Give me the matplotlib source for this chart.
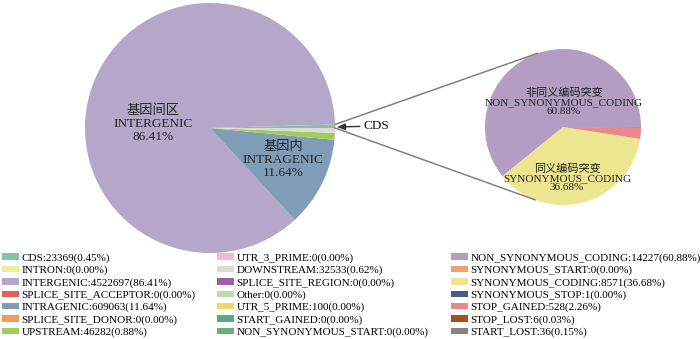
import numpy as np
import matplotlib
matplotlib.use("Agg")
import matplotlib.pyplot as plt

plt.rcParams["font.family"] = ["Liberation Serif", "Noto Sans CJK SC"]

# Variant annotation counts (whole genome)
main_names = ["CDS", "INTRON", "INTERGENIC", "SPLICE_SITE_ACCEPTOR", "INTRAGENIC",
              "SPLICE_SITE_DONOR", "UPSTREAM", "UTR_3_PRIME", "DOWNSTREAM",
              "SPLICE_SITE_REGION", "Other", "UTR_5_PRIME", "START_GAINED",
              "NON_SYNONYMOUS_START"]
main_counts = [23369, 0, 4522697, 0, 609063, 0, 46282, 0, 32533, 0, 0, 100, 0, 0]
main_colors = ["#7ec6a6", "#eeeca0", "#b4a7c9", "#e0605c", "#7f9db7", "#f09a5c",
               "#a4cc5c", "#f4bad2", "#dedad6", "#a060a2", "#bcdcb0", "#f0d862",
               "#58a888", "#6ab072"]

# Breakdown of the CDS variants
cds_names = ["NON_SYNONYMOUS_CODING", "SYNONYMOUS_START", "SYNONYMOUS_CODING",
             "SYNONYMOUS_STOP", "STOP_GAINED", "STOP_LOST", "START_LOST"]
cds_counts = [14227, 0, 8571, 1, 528, 6, 36]
cds_colors = ["#b39dc3", "#f0a070", "#ece690", "#4a5890", "#e98888", "#a84c22",
              "#8a8080"]


def pct(counts):
    counts = np.asarray(counts, dtype=float)
    return counts / counts.sum() * 100


main_pct = pct(main_counts)
cds_pct = pct(cds_counts)

fig = plt.figure(figsize=(7, 3.39), dpi=100)
ax = fig.add_axes([0, 0, 1, 1])

H = 339
c1, r1 = (210, H - 128), 125
c2, r2 = (563, H - 127), 78

w1, _ = ax.pie(main_counts, colors=main_colors, startangle=0, center=c1,
               radius=r1, wedgeprops=dict(linewidth=0))
w2, _ = ax.pie(cds_counts, colors=cds_colors, startangle=0, center=c2,
               radius=r2, wedgeprops=dict(linewidth=0))

ax.set_xlim(0, 700)
ax.set_ylim(0, H)
ax.set_aspect("equal")
ax.axis("off")

# connector lines from the CDS wedge to the second pie
cds_angle = main_pct[0] / 100 * 360
for a_main, a_sub in [(cds_angle, 109), (0, -111)]:
    x0 = c1[0] + r1 * np.cos(np.radians(a_main))
    y0 = c1[1] + r1 * np.sin(np.radians(a_main))
    x1 = c2[0] + r2 * np.cos(np.radians(a_sub))
    y1 = c2[1] + r2 * np.sin(np.radians(a_sub))
    ax.plot([x0, x1], [y0, y1], color="#8c7c7a", lw=1.1)

ax.annotate("CDS", xy=(c1[0] + r1 + 2, c1[1] + 1), xytext=(364, c1[1] + 2),
            fontsize=9.5, va="center", ha="left", color="#111111",
            arrowprops=dict(arrowstyle="-|>,head_length=0.5,head_width=0.2",
                            color="#333333", lw=1.0, shrinkA=1, shrinkB=0))

txt = dict(ha="center", va="center", color="#222222")
ax.text(153, H - 124, f"基因间区\nINTERGENIC\n{main_pct[2]:.2f}%",
        fontsize=9.5, linespacing=1.1, **txt)
ax.text(283, H - 160, f"基因内\nINTRAGENIC\n{main_pct[4]:.2f}%",
        fontsize=9.5, linespacing=1.1, **txt)
ax.text(564, H - 102, f"非同义编码突变\nNON_SYNONYMOUS_CODING\n{cds_pct[0]:.2f}%",
        fontsize=8, linespacing=1.0, **txt)
ax.text(567, H - 178, f"同义编码突变\nSYNONYMOUS_CODING\n{cds_pct[2]:.2f}%",
        fontsize=8, linespacing=1.0, **txt)

# legend: three columns of seven entries
handles = list(w1) + list(w2)
labels = ([f"{n}:{c}({p:.2f}%)" for n, c, p in zip(main_names, main_counts, main_pct)]
          + [f"{n}:{c}({p:.2f}%)" for n, c, p in zip(cds_names, cds_counts, cds_pct)])
for i, x in enumerate([0, 215, 449]):
    leg = fig.legend(handles[i * 7:(i + 1) * 7], labels[i * 7:(i + 1) * 7],
                     loc="upper left", bbox_to_anchor=(x / 700, 1 - 251 / H),
                     frameon=False, fontsize=8, labelspacing=0.25,
                     handlelength=1.5, handleheight=0.5, handletextpad=0.25,
                     borderaxespad=0, borderpad=0.2)

fig.savefig("out.png", dpi=100)
